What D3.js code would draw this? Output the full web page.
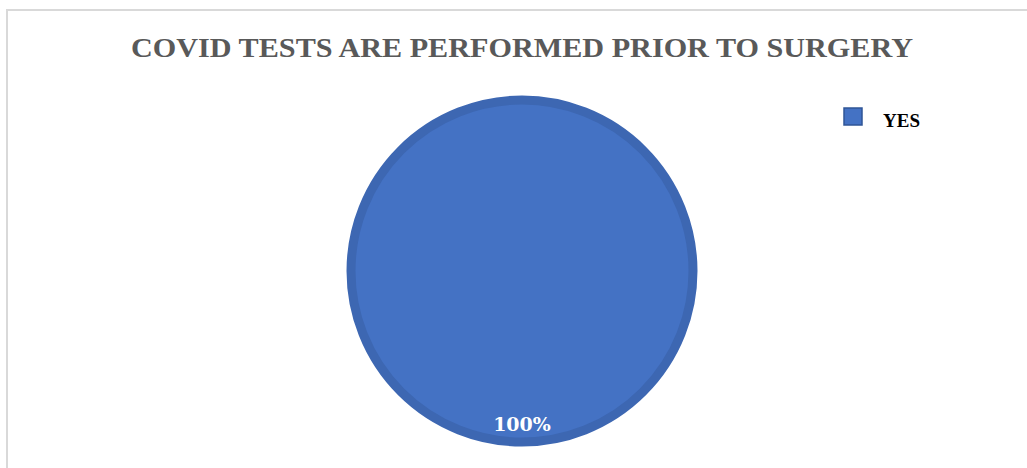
<!DOCTYPE html>
<html><head><meta charset="utf-8">
<script src="https://cdn.jsdelivr.net/npm/d3@7"></script>
<style>html,body{margin:0;padding:0;background:#fff;}</style>
</head><body>
<svg id="chart" width="1027" height="468"></svg>
<script>
const title = "COVID TESTS ARE PERFORMED PRIOR TO SURGERY";
const categories = ["YES"];
const values = [100];
const colors = ["#4472C4"];

const svg = d3.select("#chart");
svg.append("rect").attr("width",1027).attr("height",468).attr("fill","#fff");
// frame
svg.append("path").attr("d","M7,475 V10 H1040").attr("fill","none").attr("stroke","#d9d9d9").attr("stroke-width",2);

svg.append("text").attr("x",522).attr("y",57).attr("text-anchor","middle")
  .attr("font-family","'Liberation Serif', 'Times New Roman', serif").attr("font-weight","bold")
  .attr("font-size",27).attr("fill","#595959")
  .attr("textLength",782).attr("lengthAdjust","spacingAndGlyphs").text(title);

const cx = 522, cy = 271, r = 175;
const pie = d3.pie().sort(null).value(d=>d)(values);
const arc = d3.arc().innerRadius(0).outerRadius(r-4);
const g = svg.append("g").attr("transform",`translate(${cx},${cy})`);
g.selectAll("path").data(pie).join("path")
  .attr("d",arc).attr("fill",(d,i)=>colors[i]).attr("stroke","#3D67B2").attr("stroke-width",9);
const total = d3.sum(values);
g.selectAll("text").data(pie).join("text")
  .attr("x",0).attr("y",160).attr("text-anchor","middle")
  .attr("font-family","'DejaVu Serif', serif").attr("font-weight","bold")
  .attr("font-size",19).attr("fill","#fff")
  .text(d=>Math.round(d.data/total*100)+"%");

const leg = svg.append("g").selectAll("g").data(categories).join("g")
  .attr("transform",(d,i)=>`translate(844,${108+i*26})`);
leg.append("rect").attr("width",18).attr("height",17).attr("fill",(d,i)=>colors[i]).attr("stroke","#2F5597").attr("stroke-width",1.5);
leg.append("text").attr("x",39).attr("y",19)
  .attr("font-family","'Liberation Serif', 'Times New Roman', serif").attr("font-weight","bold")
  .attr("font-size",19).attr("fill","#000").text(d=>d);
</script>
</body></html>
